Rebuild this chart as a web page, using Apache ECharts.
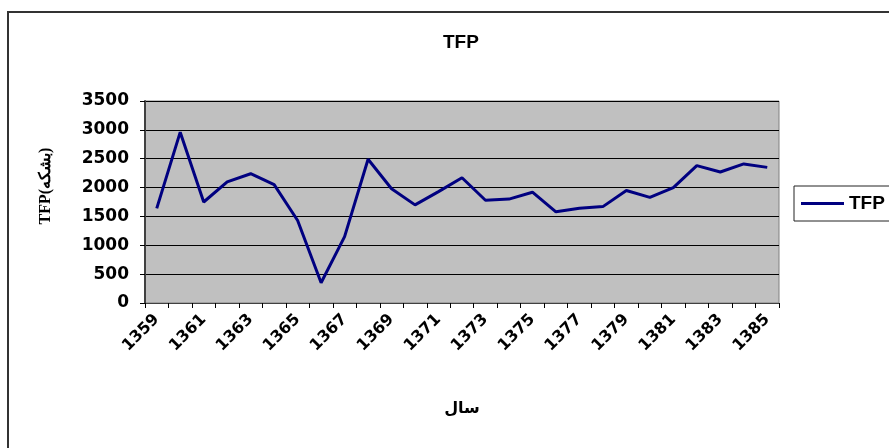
<!DOCTYPE html>
<html><head><meta charset="utf-8">
<script src="https://cdn.jsdelivr.net/npm/echarts@6/dist/echarts.min.js"></script>
<style>html,body{margin:0;padding:0;background:#fff}#c{width:889px;height:448px}</style>
</head><body><div id="c"></div>
<script>
var years = ['1359','1360','1361','1362','1363','1364','1365','1366','1367','1368','1369','1370','1371','1372','1373','1374','1375','1376','1377','1378','1379','1380','1381','1382','1383','1384','1385'];
var tfp = [1640,2960,1750,2100,2240,2050,1430,350,1150,2490,1980,1700,1930,2170,1780,1800,1920,1580,1640,1670,1950,1830,2000,2380,2270,2410,2350];
var yTicks = {min:0, max:3500, interval:500};

var chart = echarts.init(document.getElementById('c'));
chart.setOption({
  animation:false,
  backgroundColor:'#fff',
  graphic:[{type:'rect',shape:{x:8,y:12,width:1000,height:1000},style:{fill:'none',stroke:'#333',lineWidth:2},silent:true}],
  title:{text:'TFP',left:438,top:28,textStyle:{fontFamily:'Liberation Sans, Arial',fontWeight:'bold',fontSize:19,color:'#000'}},
  legend:{data:['TFP'],left:794,top:186,orient:'vertical',padding:[8,6,8,7],borderColor:'#222',borderWidth:1,itemWidth:43,itemHeight:3,icon:'rect',itemGap:5,
    textStyle:{fontFamily:'Liberation Sans, Arial',fontWeight:'bold',fontSize:19,color:'#000'}},
  grid:{left:145,top:101,right:110,bottom:145,show:true,backgroundColor:'#c0c0c0',borderColor:'#808080',borderWidth:1},
  xAxis:{type:'category',data:years,boundaryGap:true,
    name:'سال',nameLocation:'middle',nameGap:98,nameTextStyle:{fontFamily:'DejaVu Sans, Liberation Sans',fontWeight:'bold',fontSize:16,color:'#000'},
    axisLine:{lineStyle:{color:'#404040',width:1}},
    axisTick:{show:true,interval:0,alignWithLabel:false,length:5,lineStyle:{color:'#000'}},
    axisLabel:{interval:1,rotate:45,margin:14,fontFamily:'DejaVu Sans',fontWeight:'bold',fontSize:16,color:'#000'}},
  yAxis:{type:'value',min:yTicks.min,max:yTicks.max,interval:yTicks.interval,
    name:'TFP(بشکه)',nameLocation:'middle',nameGap:91,nameRotate:90,
    nameTextStyle:{fontFamily:'Liberation Serif, Times New Roman',fontWeight:'bold',fontSize:16,color:'#000',padding:[0,0,0,32]},
    axisLine:{show:true,lineStyle:{color:'#404040',width:2}},
    axisTick:{show:true,length:5,lineStyle:{color:'#000'}},
    axisLabel:{margin:16,formatter:function(v){return String(v);},padding:[8,0,0,0],fontFamily:'DejaVu Sans',fontWeight:'bold',fontSize:17,color:'#000'},
    splitLine:{show:true,lineStyle:{color:'#000',width:1}}},
  series:[{name:'TFP',type:'line',data:tfp,symbol:'none',lineStyle:{color:'#000080',width:3},itemStyle:{color:'#000080'}}]
});
</script></body></html>
